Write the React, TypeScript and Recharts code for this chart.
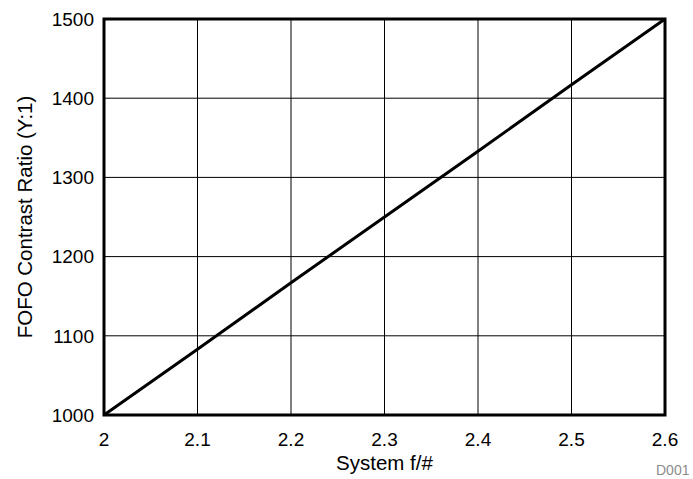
import { LineChart, Line, XAxis, YAxis, CartesianGrid, ReferenceArea } from 'recharts';

// values
const fNumbers = [2, 2.1, 2.2, 2.3, 2.4, 2.5, 2.6];
const contrastRatios = [1000, 1083, 1167, 1250, 1333, 1417, 1500];
const xTicks = [2, 2.1, 2.2, 2.3, 2.4, 2.5, 2.6];
const yTicks = [1000, 1100, 1200, 1300, 1400, 1500];

const data = fNumbers.map((f, i) => ({ f, ratio: contrastRatios[i] }));

const font = '"Liberation Sans", Arial, Helvetica, sans-serif';

export default function App() {
  return (
    <div style={{ position: 'absolute', left: 0, top: 0, width: 693, height: 479, background: '#fff', fontFamily: font }}>
      <LineChart width={693} height={479} data={data} margin={{ top: 19, right: 28, bottom: 0, left: 0 }}>
        <CartesianGrid stroke="#000" strokeWidth={1} />
        <XAxis
          dataKey="f"
          type="number"
          domain={[2, 2.6]}
          ticks={xTicks}
          tickFormatter={(v: number) => String(Math.round(v * 10) / 10)}
          height={64}
          tickLine={false}
          axisLine={false}
          tickSize={0}
          tickMargin={18}
          tick={{ fill: '#000', fontSize: 19, fontFamily: font }}
          label={{ value: 'System f/#', position: 'insideBottom', offset: 9, fill: '#000', fontSize: 20.5, fontFamily: font }}
        />
        <YAxis
          type="number"
          domain={[1000, 1500]}
          ticks={yTicks}
          width={104}
          tickLine={false}
          axisLine={false}
          tickSize={0}
          tickMargin={10}
          tick={{ fill: '#000', fontSize: 19, fontFamily: font }}
          label={{
            value: 'FOFO Contrast Ratio (Y:1)',
            angle: -90,
            position: 'insideLeft',
            offset: 25,
            fill: '#000',
            fontSize: 20.5,
            fontFamily: font,
            style: { textAnchor: 'middle' },
          }}
        />
        <ReferenceArea x1={2} x2={2.6} y1={1000} y2={1500} fill="none" stroke="#000" strokeWidth={3} ifOverflow="visible" />
        <Line type="linear" dataKey="ratio" stroke="#000" strokeWidth={3} dot={false} isAnimationActive={false} />
      </LineChart>
      <span style={{ position: 'absolute', left: 656, top: 462, fontSize: 14, color: '#8c8c8c', fontFamily: font }}>D001</span>
    </div>
  );
}
